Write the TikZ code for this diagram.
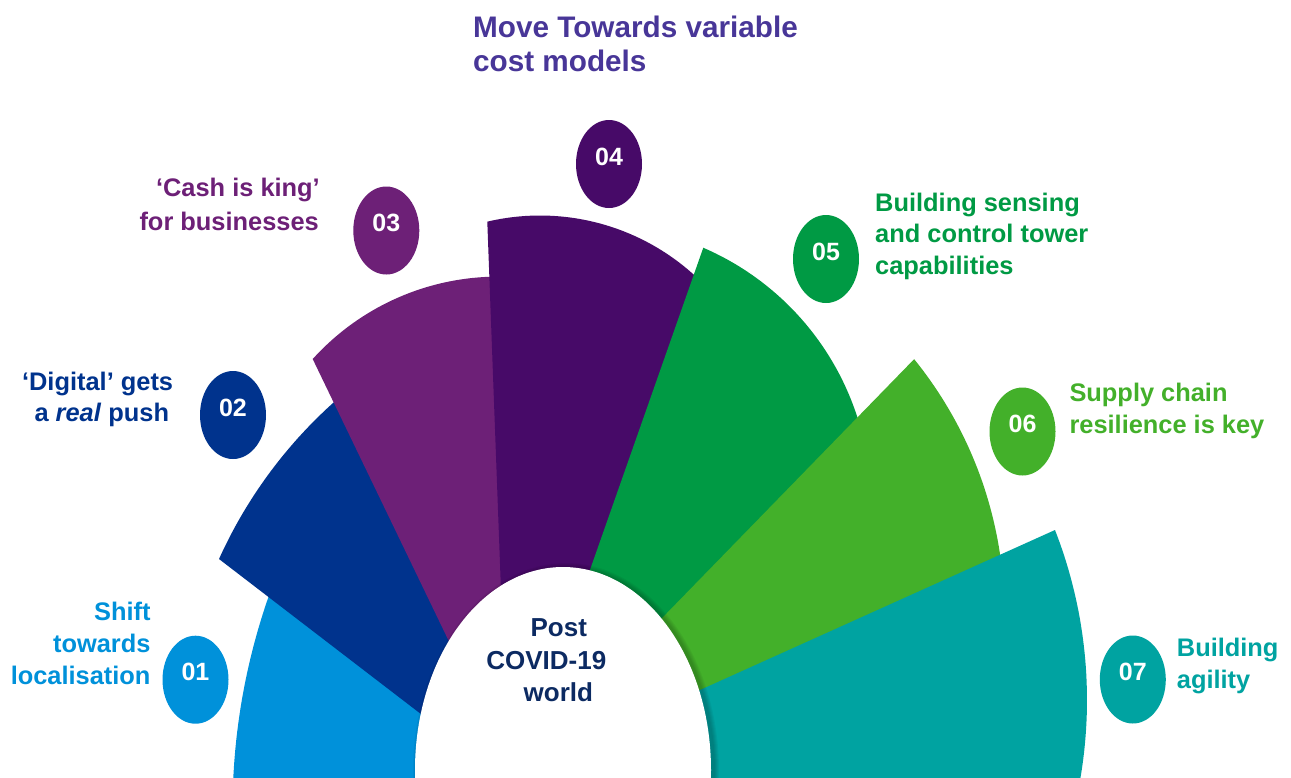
\documentclass[tikz,border=0pt]{standalone}
\usepackage{fontspec}
\setmainfont{Liberation Sans}
\usetikzlibrary{shapes.geometric}
\definecolor{cA}{HTML}{0091DA}
\definecolor{cB}{HTML}{00338D}
\definecolor{cC}{HTML}{6D2077}
\definecolor{cD}{HTML}{470A68}
\definecolor{cE}{HTML}{009A44}
\definecolor{cF}{HTML}{43B02A}
\definecolor{cG}{HTML}{00A3A1}
\definecolor{cT}{HTML}{483698}
\definecolor{cN}{HTML}{0C2A62}
\newcommand{\lblfont}{\fontsize{25.4}{30}\selectfont\bfseries}
\newcommand{\numfont}{\fontsize{25}{30}\selectfont\bfseries}
\newcommand{\ttlfont}{\fontsize{29.7}{34}\selectfont\bfseries}
\newcommand{\ctrfont}{\fontsize{26}{32}\selectfont\bfseries}
\begin{document}
\begin{tikzpicture}[x=1pt,y=-1pt,
  bubble/.style={ellipse, minimum width=66pt, minimum height=88pt, inner sep=0pt,
                 text=white, font=\numfont, text depth=15pt},
  lbl/.style={inner sep=0pt, font=\lblfont},
  ttl/.style={inner sep=0pt, font=\ttlfont, text=cT, anchor=base west},
  ctr/.style={inner sep=0pt, font=\ctrfont, text=cN, anchor=base},
  arcplot/.style={samples=40}]
\useasboundingbox (0,0) rectangle (1291,777);
\clip (0,0) rectangle (1291,777);
\fill[white] (0,0) rectangle (1291,777);

% edge corners and inner points
\coordinate (k2) at (219,559);
\coordinate (k3) at (312.7,359);
\coordinate (k4) at (487.3,221.7);
\coordinate (k5) at (703.3,247.7);
\coordinate (k6) at (914,359.3);
\coordinate (k7) at (1055,530);
\coordinate (p2) at (454.8,740);
\coordinate (p3) at (486.9,720);
\coordinate (p4) at (505.8,720);
\coordinate (p5) at (537.2,720);
\coordinate (p6) at (562.8,720);
\coordinate (p7) at (589.1,740);
\coordinate (q1) at (470,800);
\coordinate (q7) at (600,800);

% sectors
\fill[cA] (q1) -- plot[arcplot, domain=180.83:202] ({878.3+645.8*cos(\x)},{809.4+645.8*sin(\x)}) -- (p2) -- cycle;
\fill[cB] (p2) -- (k2) -- plot[arcplot, domain=204.29:233] ({647.3+469.9*cos(\x)},{752.3+469.9*sin(\x)}) -- (p3) -- cycle;
\fill[cC] (p3) -- (k3) -- plot[arcplot, domain=222.14:275] ({498.4+250.4*cos(\x)},{527+250.4*sin(\x)}) -- (p4) -- cycle;
\fill[cD] (p4) -- (k4) -- plot[arcplot, domain=256.72:318] ({540+229.5*cos(\x)},{445+229.5*sin(\x)}) -- (p5) -- cycle;
\fill[cE] (p5) -- (k5) -- plot[arcplot, domain=293.35:348] ({593.3+277.5*cos(\x)},{502.5+277.5*sin(\x)}) -- (p6) -- cycle;
\fill[cF] (p6) -- (k6) -- plot[arcplot, domain=320.98:358] ({599.6+404.9*cos(\x)},{614.1+404.9*sin(\x)}) -- (p7) -- cycle;
\fill[cG] (p7) -- (k7) -- plot[arcplot, domain=338.68:372.35] ({619.4+467.6*cos(\x)},{700+467.6*sin(\x)}) -- (q7) -- cycle;

% hub with soft shadow
\foreach \k in {1,...,5}{
  \fill[black, opacity=0.045] (566,771) ellipse [x radius={148pt+\k pt}, y radius={203pt+\k pt}];
}
\fill[white] (563,770) ellipse [x radius=148pt, y radius=203pt];
\node[ctr] (h1) at (558.8,636.7) {Post};
\node[ctr] (h2) at (546.3,669.3) {COVID-19};
\node[ctr] (h3) at (558.3,701.7) {world};

% number bubbles
\node[bubble, fill=cA] (b1) at (195.5,679.7) {01};
\node[bubble, fill=cB] (b2) at (233,415) {02};
\node[bubble, fill=cC] (b3) at (386.3,230.5) {03};
\node[bubble, fill=cD] (b4) at (609,164) {04};
\node[bubble, fill=cE] (b5) at (826,259) {05};
\node[bubble, fill=cF] (b6) at (1022.5,431.5) {06};
\node[bubble, fill=cG] (b7) at (1132.8,679.5) {07};

% labels
\node[lbl, text=cA, anchor=base east] (l1a) at (150.7,620.7) {Shift};
\node[lbl, text=cA, anchor=base east] (l1b) at (150.7,652.7) {towards};
\node[lbl, text=cA, anchor=base east] (l1c) at (150.7,684.7) {localisation};

\node[lbl, text=cB, anchor=base east] (l2a) at (173.3,390) {‘Digital’ gets};
\node[lbl, text=cB, anchor=base east] (l2b) at (169.3,421.7) {a \textit{real} push};

\node[lbl, text=cC, anchor=base east] (l3a) at (320,196) {‘Cash is king’};
\node[lbl, text=cC, anchor=base east] (l3b) at (319,230) {for businesses};

\node[ttl] (l4a) at (473,37.3) {Move Towards variable};
\node[ttl] (l4b) at (473,71.7) {cost models};

\node[lbl, text=cE, anchor=base west] (l5a) at (875,211.7) {Building sensing};
\node[lbl, text=cE, anchor=base west] (l5b) at (875,242.7) {and control tower};
\node[lbl, text=cE, anchor=base west] (l5c) at (875,274) {capabilities};

\node[lbl, text=cF, anchor=base west] (l6a) at (1069.3,401.7) {Supply chain};
\node[lbl, text=cF, anchor=base west] (l6b) at (1069.3,433.3) {resilience is key};

\node[lbl, text=cG, anchor=base west] (l7a) at (1176.7,656) {Building};
\node[lbl, text=cG, anchor=base west] (l7b) at (1176.7,688.3) {agility};
\end{tikzpicture}
\end{document}
